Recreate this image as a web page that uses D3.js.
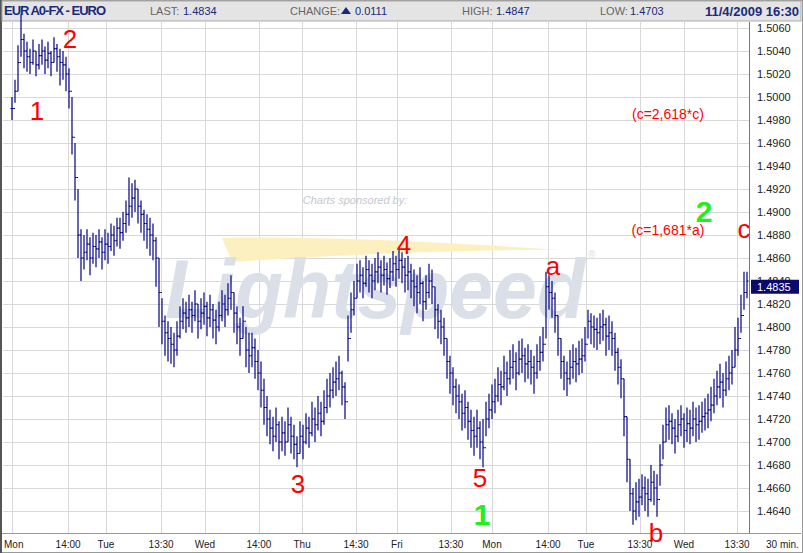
<!DOCTYPE html>
<html><head><meta charset="utf-8">
<script src="https://cdn.jsdelivr.net/npm/d3@7"></script>
<style>body{margin:0;background:#fff}svg{display:block;font-family:Arial,"Liberation Sans",sans-serif}</style>
</head><body><div id="chart"></div>
<script>
// price values in 0.0001 above 1.4000
const closes = [
990,1005,1030,1050,1040,1035,1030,1040,1028,1036,
1040,1032,1038,1030,1042,1035,1030,1028,1020,1005,
965,930,880,860,865,872,860,870,868,874,
865,872,870,880,875,886,882,890,898,905,
912,920,905,898,890,885,880,875,860,830,
805,795,790,785,780,792,805,812,808,815,
810,820,805,812,818,808,815,806,800,810,
820,815,825,830,812,800,790,805,780,775,
782,770,760,745,730,720,712,705,715,700,
708,700,715,705,698,690,705,700,712,708,
720,715,725,718,730,740,745,752,755,760,
748,735,790,815,825,840,845,838,850,845,
840,848,852,845,850,842,848,855,850,858,
852,845,848,840,835,830,838,822,830,840,
835,815,805,800,790,770,760,748,740,735,
725,730,718,710,705,712,700,695,720,728,
735,740,750,748,760,755,765,770,760,772,
775,768,770,765,760,770,778,785,835,830,
825,810,790,770,760,755,765,770,768,772,
775,785,805,800,798,795,800,802,792,795,
790,778,765,755,722,685,655,640,648,652,
660,655,650,665,660,650,680,700,715,718,
712,705,715,720,710,716,712,720,715,718,
722,725,728,732,740,748,752,745,755,760,
765,780,790,810,830,840];
const highs = [
1000,1015,1045,1072,1055,1048,1042,1050,1040,1046,
1050,1044,1048,1040,1052,1046,1042,1040,1035,1025,
1000,960,920,885,880,885,878,882,880,885,
878,885,882,890,888,895,895,900,910,930,
925,928,920,910,902,898,895,890,878,860,
825,810,805,800,795,805,818,825,822,828,
822,832,820,825,830,822,828,820,815,822,
832,828,838,845,830,818,808,818,800,795,
795,790,780,770,755,740,728,722,730,718,
722,718,730,722,715,705,718,715,725,722,
735,730,740,735,745,755,760,765,770,775,
762,752,810,830,840,855,858,852,862,858,
855,860,865,858,862,856,860,866,862,868,
865,860,862,855,850,845,852,840,845,855,
850,835,820,815,808,790,775,765,755,750,
742,745,735,728,722,728,718,720,735,742,
750,755,765,762,775,770,780,785,778,788,
790,782,785,780,775,785,792,800,848,845,
840,830,810,790,775,770,780,785,782,788,
790,800,815,812,810,808,812,815,808,810,
805,795,782,772,755,722,685,660,665,668,
672,670,668,680,675,672,698,715,730,732,
725,720,728,732,725,730,728,735,730,732,
735,738,742,748,755,762,768,760,770,775,
780,800,808,828,848,848];
const lows = [
980,995,1005,1035,1025,1022,1020,1028,1018,1024,
1028,1020,1025,1018,1030,1022,1010,1015,1005,990,
950,910,860,840,850,858,845,855,852,860,
850,858,855,866,862,870,868,875,882,888,
895,900,890,882,875,868,862,858,835,800,
785,775,770,768,765,775,790,798,795,800,
795,805,790,798,802,792,800,790,785,796,
805,800,810,815,795,785,775,790,765,760,
765,755,745,730,715,705,698,692,700,685,
692,688,700,690,685,678,690,685,698,695,
705,700,710,705,715,725,730,738,740,745,
732,720,770,795,810,825,830,825,835,830,
825,832,838,830,836,828,834,840,835,842,
838,830,832,825,818,812,820,805,815,825,
820,798,790,785,775,755,742,732,725,720,
710,712,702,695,688,695,685,678,705,712,
720,725,735,732,745,740,750,755,745,758,
760,752,755,750,742,755,762,770,790,815,
808,795,775,755,745,740,750,755,752,758,
760,770,790,785,782,780,785,788,775,780,
775,762,750,738,705,665,640,628,632,635,
645,640,635,648,645,635,662,685,700,702,
698,690,700,705,695,700,698,705,700,702,
708,710,712,718,725,732,738,730,740,745,
750,765,775,795,815,825];
const timeTicks = [0,18.7,31.3,49.7,64.3,82.3,96.7,114.7,128.3,146.3,160,178.7,191.3,209.3,224,241.7];
const timeLabels = ["Mon","14:00","Tue","13:30","Wed","14:00","Thu","14:30","Fri","13:30","Mon","14:00","Tue","13:30","Wed","13:30"];
const priceTicks = d3.range(0, 22).map(k => 1.4640 + k * 0.002);
const waves = [
  {t:"1",x:37,y:120,c:"#ff0000",s:26},{t:"2",x:70,y:48,c:"#ff0000",s:26},
  {t:"3",x:298,y:493,c:"#ff0000",s:26},{t:"4",x:404,y:254,c:"#ff0000",s:26},
  {t:"5",x:480,y:487,c:"#ff0000",s:26},{t:"a",x:553,y:275,c:"#ff0000",s:26},
  {t:"b",x:656,y:542,c:"#ff0000",s:26},{t:"c",x:744,y:238,c:"#ff0000",s:26},
  {t:"(c=2,618*c)",x:668,y:119,c:"#ff0000",s:14},{t:"(c=1,681*a)",x:668,y:235,c:"#ff0000",s:14},
  {t:"2",x:704,y:222,c:"#22ee22",s:30,b:true},{t:"1",x:482,y:525,c:"#22ee22",s:30,b:true}];

const W = 803, H = 553;
const svg = d3.select("#chart").append("svg").attr("width", W).attr("height", H);
const x = d3.scaleLinear().domain([0, 245]).range([12, 747]);
const y = d3.scaleLinear().domain([1.4640, 1.5060]).range([511, 28]);
const plotTop = 22, plotBottom = 533, plotRight = 749;

svg.append("rect").attr("x",0.5).attr("y",0.5).attr("width",W-1).attr("height",H-1).attr("fill","#fff").attr("stroke","#999");
svg.append("line").attr("x1",1).attr("x2",1).attr("y1",0).attr("y2",H).attr("stroke","#555").attr("stroke-width",2);

// header
svg.append("rect").attr("x",2).attr("y",1).attr("width",W-4).attr("height",20).attr("fill","#e4e4e4").attr("stroke","#aaa");
const hd = svg.append("g").attr("font-size",11).attr("fill","#1a2a7a");
hd.append("text").attr("x",4).attr("y",15).attr("font-weight","bold").attr("font-size",13).attr("textLength",102).text("EUR A0-FX - EURO");
hd.append("text").attr("x",150).attr("y",15).attr("fill","#666").text("LAST:");
hd.append("text").attr("x",183).attr("y",15).text("1.4834");
hd.append("text").attr("x",290).attr("y",15).attr("fill","#666").text("CHANGE:");
hd.append("path").attr("d","M341,14 L346,7 L351,14 Z").attr("fill","#1a2a7a");
hd.append("text").attr("x",355).attr("y",15).text("0.0111");
hd.append("text").attr("x",462).attr("y",15).attr("fill","#666").text("HIGH:");
hd.append("text").attr("x",496).attr("y",15).text("1.4847");
hd.append("text").attr("x",600).attr("y",15).attr("fill","#666").text("LOW:");
hd.append("text").attr("x",630).attr("y",15).text("1.4703");
hd.append("text").attr("x",799).attr("y",16).attr("text-anchor","end").attr("font-weight","bold").attr("font-size",13).text("11/4/2009 16:30");

// grid
const grid = svg.append("g").attr("stroke","#d8d8d8");
grid.selectAll("line.h").data(priceTicks).enter().append("line")
  .attr("x1",3).attr("x2",plotRight).attr("y1",d=>Math.round(y(d))+0.5).attr("y2",d=>Math.round(y(d))+0.5);
grid.selectAll("line.v").data(timeTicks).enter().append("line")
  .attr("y1",plotTop).attr("y2",plotBottom).attr("x1",d=>Math.round(x(d))+0.5).attr("x2",d=>Math.round(x(d))+0.5);

// watermark
const wm = svg.append("g");
wm.append("path").attr("d","M222,238 C320,236 440,242 560,250 C440,250 320,256 232,262 Z").attr("fill","#fdf0c0");
wm.append("text").attr("x",355).attr("y",204).attr("font-size",11).attr("font-style","italic").attr("fill","#c4c8d0").attr("text-anchor","middle").text("Charts sponsored by:");
wm.append("text").attr("x",165).attr("y",318).attr("font-size",84).attr("font-style","italic").attr("font-weight","bold")
  .attr("fill","#dbe0e8").attr("textLength",420).attr("lengthAdjust","spacingAndGlyphs").text("Lightspeed");
wm.append("text").attr("x",588).attr("y",258).attr("font-size",10).attr("fill","#dbe0e8").text("®");

// axes frame
svg.append("line").attr("x1",plotRight+0.5).attr("x2",plotRight+0.5).attr("y1",plotTop).attr("y2",plotBottom).attr("stroke","#777");
svg.append("line").attr("x1",2).attr("x2",W-2).attr("y1",plotBottom+0.5).attr("y2",plotBottom+0.5).attr("stroke","#999");

const ya = svg.append("g").attr("font-size",11).attr("fill","#222");
ya.selectAll("text").data(priceTicks).enter().append("text")
  .attr("x",757).attr("y",d=>y(d)+4).text(d=>d.toFixed(4));
const xa = svg.append("g").attr("font-size",10).attr("fill","#222");
xa.selectAll("text").data(timeTicks).enter().append("text")
  .attr("x",(d,i)=>i===0?4:x(d)).attr("y",548).attr("text-anchor",(d,i)=>i===0?"start":"middle").text((d,i)=>timeLabels[i]);
xa.append("text").attr("x",766).attr("y",548).text("30 min.");

// bars
const p = v => 1.4 + v / 10000;
const bars = svg.append("g").attr("stroke","#000080").attr("stroke-width",1.2);
closes.forEach((c, i) => {
  const xi = x(i);
  const open = i === 0 ? closes[0] : closes[i - 1];
  bars.append("line").attr("x1",xi).attr("x2",xi).attr("y1",y(p(highs[i]))).attr("y2",y(p(lows[i])));
  bars.append("line").attr("x1",xi-1.5).attr("x2",xi).attr("y1",y(p(open))).attr("y2",y(p(open)));
  bars.append("line").attr("x1",xi).attr("x2",xi+1.5).attr("y1",y(p(c))).attr("y2",y(p(c)));
});

// last price tag
svg.append("rect").attr("x",751).attr("y",y(1.4835)-7).attr("width",48).attr("height",14).attr("fill","#0a0a6e");
svg.append("text").attr("x",757).attr("y",y(1.4835)+4).attr("font-size",11).attr("fill","#fff").text("1.4835");

// annotations
svg.append("g").selectAll("text").data(waves).enter().append("text")
  .attr("x",d=>d.x).attr("y",d=>d.y).attr("text-anchor","middle").attr("font-size",d=>d.s)
  .attr("font-weight",d=>d.b?"bold":"normal").attr("fill",d=>d.c).text(d=>d.t);
</script></body></html>
